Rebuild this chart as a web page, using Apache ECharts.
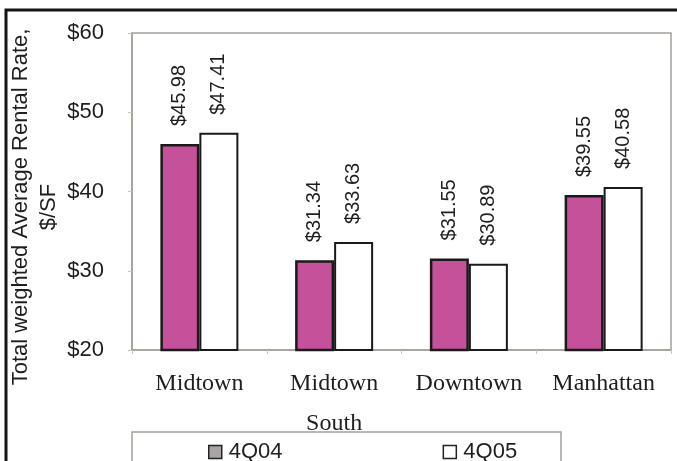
<!DOCTYPE html>
<html>
<head>
<meta charset="utf-8">
<script src="https://cdn.jsdelivr.net/npm/echarts@6/dist/echarts.min.js"></script>
<style>
  html, body { margin: 0; padding: 0; background: #ffffff; }
  #chart { width: 677px; height: 461px; }
</style>
</head>
<body>
<div id="chart"></div>
<script>
// Total weighted average rental rate by market, $/SF
const categories = ['Midtown', 'Midtown\nSouth', 'Downtown', 'Manhattan'];
const rate4Q04 = [45.98, 31.34, 31.55, 39.55];
const rate4Q05 = [47.41, 33.63, 30.89, 40.58];
const seriesNames = ['4Q04', '4Q05'];
const yTicks = { min: 20, max: 60, step: 10 };

const sansFont = '"Liberation Sans", Arial, Helvetica, sans-serif';
const serifFont = '"Liberation Serif", "Times New Roman", serif';

const chart = echarts.init(document.getElementById('chart'), null, { renderer: 'canvas' });

const valueLabel = {
  show: true,
  position: 'top',
  distance: 18,
  rotate: 90,
  align: 'left',
  verticalAlign: 'middle',
  fontFamily: sansFont,
  fontSize: 20,
  color: '#1e1e1e',
  formatter: p => '$' + p.value.toFixed(2)
};

chart.setOption({
  animation: false,
  backgroundColor: '#ffffff',
  grid: { left: 132, top: 33, right: 6, bottom: 111, show: true, borderColor: '#a59e98', borderWidth: 1.5, backgroundColor: 'transparent' },
  graphic: [
    // outer frame
    { type: 'rect', shape: { x: 6, y: 10, width: 700, height: 500 }, style: { fill: 'none', stroke: '#141414', lineWidth: 3 }, silent: true },
    // legend box
    { type: 'rect', shape: { x: 132, y: 432, width: 429, height: 60 }, style: { fill: 'none', stroke: '#a59e98', lineWidth: 1.5 }, silent: true },
    // axis title
    {
      type: 'text', x: 35, y: 207, rotation: Math.PI / 2,
      style: {
        text: 'Total weighted Average Rental Rate,\n$/SF',
        fontFamily: sansFont, fontSize: 22, lineHeight: 28,
        fill: '#1e1e1e', align: 'center', verticalAlign: 'middle'
      }, silent: true
    }
  ],
  legend: {
    left: 203, top: 436,
    itemWidth: 13, itemHeight: 13, itemGap: 160,
    icon: 'rect',
    textStyle: { fontFamily: sansFont, fontSize: 22, color: '#1e1e1e', padding: [0, 0, 0, 2] },
    data: [
      { name: seriesNames[0], itemStyle: { color: '#a8a4a4', borderColor: '#222', borderWidth: 1.5 } },
      { name: seriesNames[1], itemStyle: { color: '#ffffff', borderColor: '#222', borderWidth: 1.5 } }
    ]
  },
  xAxis: {
    type: 'category',
    data: categories,
    axisLine: { show: true, lineStyle: { color: '#a59e98', width: 1.5 } },
    axisTick: { show: true, length: 4, lineStyle: { color: '#c8c2bc' } },
    axisLabel: {
      interval: 0, hideOverlap: false,
      margin: 14, fontFamily: serifFont, fontSize: 24, lineHeight: 40, color: '#1e1e1e'
    },
    splitLine: { show: false }
  },
  yAxis: {
    type: 'value',
    min: yTicks.min, max: yTicks.max, interval: yTicks.step,
    axisLine: { show: true, lineStyle: { color: '#a59e98', width: 1.5 } },
    axisTick: { show: true, length: 4, lineStyle: { color: '#c8c2bc' } },
    axisLabel: {
      margin: 28, fontFamily: sansFont, fontSize: 22, color: '#1e1e1e',
      formatter: v => '$' + v
    },
    splitLine: { show: false }
  },
  series: [
    {
      name: seriesNames[0], type: 'bar', data: rate4Q04,
      barWidth: 39, barGap: '0%',
      itemStyle: { color: '#c6519b', borderColor: '#1a1a1a', borderWidth: 2.5 },
      label: valueLabel
    },
    {
      name: seriesNames[1], type: 'bar', data: rate4Q05,
      barWidth: 39, barGap: '0%',
      itemStyle: { color: '#ffffff', borderColor: '#1a1a1a', borderWidth: 2 },
      label: valueLabel
    }
  ]
});
</script>
</body>
</html>
